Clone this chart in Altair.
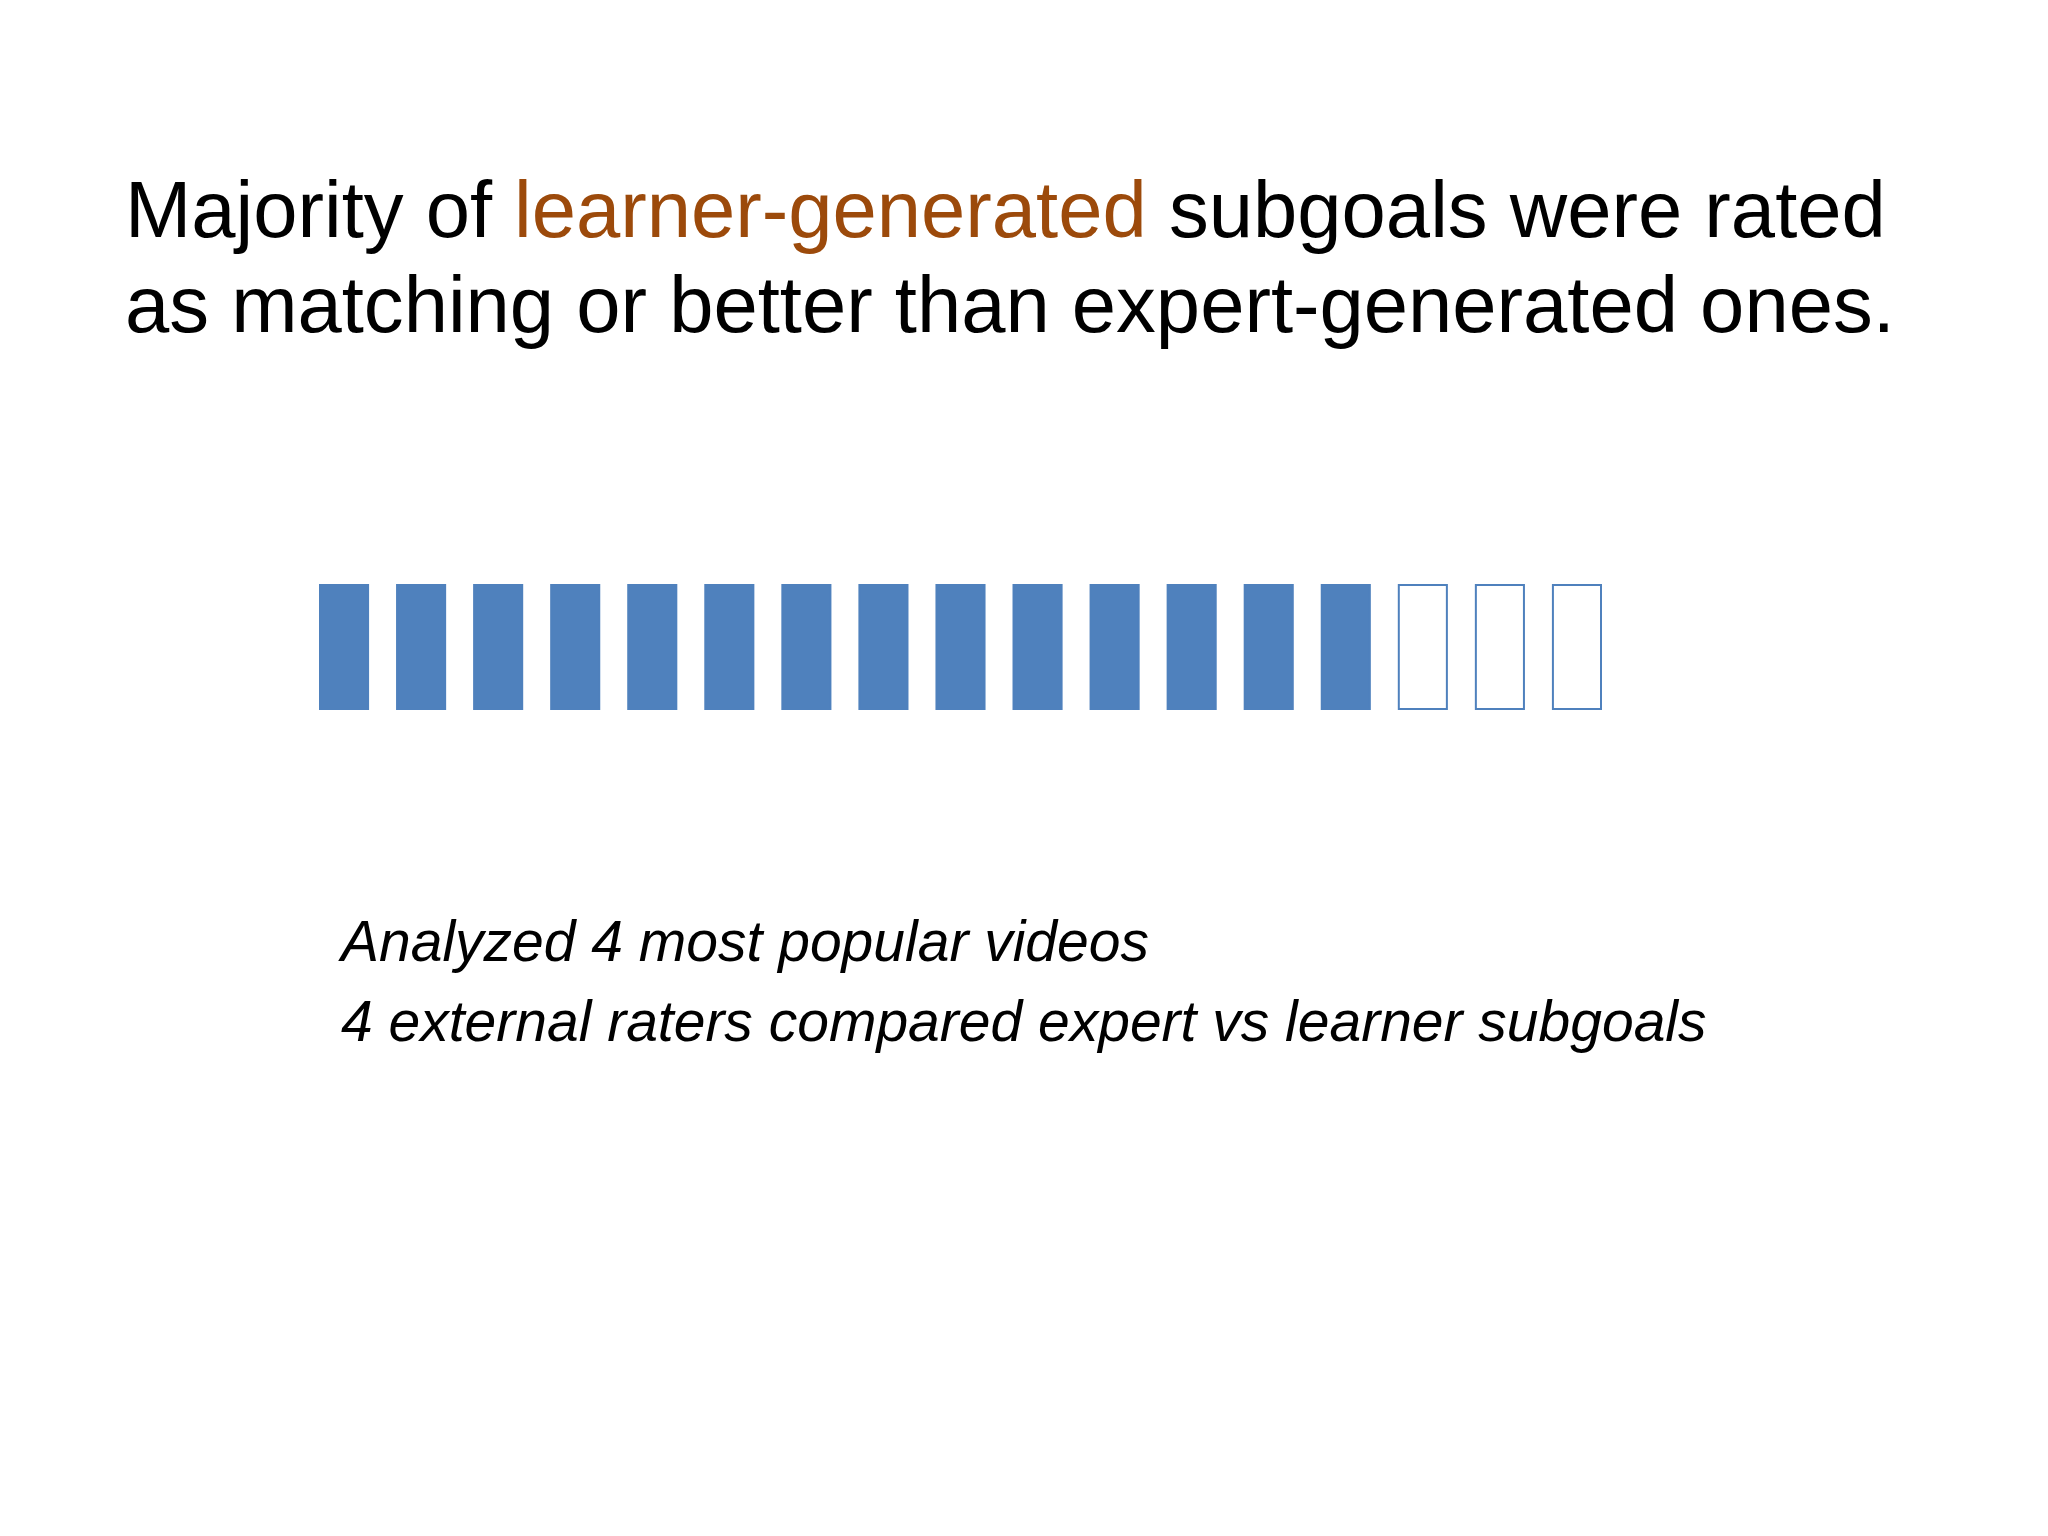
import altair as alt
import pandas as pd

# ---- data ----
subgoal_ids = list(range(1, 18))
ratings = ["match or better"] * 14 + ["worse"] * 3
heights = [1] * 17

title_pre = "Majority of"
title_hl = "learner-generated"
title_post = "subgoals were rated"
title_line2 = "as matching or better than expert-generated ones."
note_lines = ["Analyzed 4 most popular videos",
              "4 external raters compared expert vs learner subgoals"]

BLUE = "#4F81BD"
ORANGE = "#9C4A0B"
FONT = "Liberation Sans"

df = pd.DataFrame({"id": subgoal_ids, "rating": ratings, "h": heights})

bars = alt.Chart(df).mark_bar(stroke=BLUE, strokeWidth=2).encode(
    x=alt.X("id:O", axis=None,
            scale=alt.Scale(range=[312, 1593], paddingInner=0.376, paddingOuter=0)),
    y=alt.Y("h:Q", axis=None, scale=alt.Scale(domain=[0, 1], range=[701, 577])),
    fill=alt.Fill("rating:N", legend=None,
                  scale=alt.Scale(domain=["match or better", "worse"],
                                  range=[BLUE, "#FFFFFF"])),
)


def text_layer(txt, x, y, size, color="#000000", italic=False):
    return alt.Chart(pd.DataFrame({"t": [txt]})).mark_text(
        align="left", baseline="alphabetic", font=FONT, fontSize=size,
        color=color, fontStyle="italic" if italic else "normal",
    ).encode(x=alt.value(x), y=alt.value(y), text="t:N")


layers = [
    bars,
    text_layer(title_pre, 117, 229, 79.6),
    text_layer(title_hl, 506, 229, 79.6, ORANGE),
    text_layer(title_post, 1161, 229, 79.6),
    text_layer(title_line2, 117, 324, 79.6),
    text_layer(note_lines[0], 333, 953, 57, italic=True),
    text_layer(note_lines[1], 333, 1033, 57, italic=True),
]

chart = alt.layer(*layers).properties(
    width=2000, height=1400, padding=0, autosize=alt.AutoSizeParams(type="none"),
    background="#FFFFFF",
).configure_view(stroke=None)

chart.save("out.html", embed_options={"renderer": "svg", "actions": False})
